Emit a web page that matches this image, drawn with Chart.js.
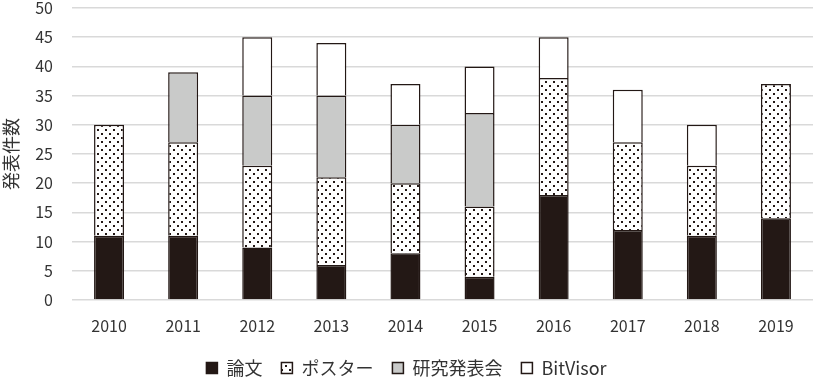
<!DOCTYPE html>
<html><head><meta charset="utf-8">
<script src="https://cdn.jsdelivr.net/npm/chart.js@4"></script>
<style>html,body{margin:0;padding:0;background:#fff;}canvas{display:block;}</style>
</head><body>
<canvas id="c" width="820" height="383"></canvas>
<script>
const categories = ["2010","2011","2012","2013","2014","2015","2016","2017","2018","2019"];
const seriesNames = ["論文","ポスター","研究発表会","BitVisor"];
const ronbun   = [11,11,9,6,8,4,18,12,11,14];
const poster   = [19,16,14,15,12,12,20,15,12,23];
const kenkyu   = [null,12,12,14,10,16,null,null,null,null];
const bitvisor = [null,null,10,9,7,8,7,9,7,null];
const yTicks = [0,5,10,15,20,25,30,35,40,45,50];

const FONT = "'Noto Sans CJK JP', 'Noto Sans', sans-serif";
const DARK = '#231815';
const TEXT = '#333333';

function dotPattern(){
  const p = document.createElement('canvas');
  p.width = 8; p.height = 8;
  const g = p.getContext('2d');
  g.fillStyle = '#fff'; g.fillRect(0,0,8,8);
  g.fillStyle = DARK;
  g.fillRect(1,1,2,2);
  g.fillRect(5,5,2,2);
  return g.createPattern(p,'repeat');
}
const ctx = document.getElementById('c').getContext('2d');
const pat = dotPattern();

const legendHeightFix = {
  id: 'legendHeightFix',
  beforeLayout(chart){
    const lg = chart.legend;
    if (lg && !lg._patched){
      const f = lg.fit;
      lg.fit = function(){ f.call(this); this.height = 43; };
      lg._patched = true;
    }
  }
};

new Chart(ctx, {
  type: 'bar',
  data: {
    labels: categories,
    datasets: [
      {label: seriesNames[0], data: ronbun, backgroundColor: DARK, borderColor: DARK, borderWidth: 1.5},
      {label: seriesNames[1], data: poster, backgroundColor: pat, borderColor: DARK, borderWidth: 1.5},
      {label: seriesNames[2], data: kenkyu, backgroundColor: '#c9cac9', borderColor: DARK, borderWidth: 1.5},
      {label: seriesNames[3], data: bitvisor, backgroundColor: '#ffffff', borderColor: DARK, borderWidth: 1.5}
    ]
  },
  plugins: [legendHeightFix],
  options: {
    responsive: false,
    animation: false,
    layout: {padding: {left: 0, right: 7, top: 8, bottom: 0}},
    datasets: {bar: {barPercentage: 0.405, categoryPercentage: 1.0}},
    scales: {
      x: {
        stacked: true,
        grid: {display: false},
        border: {display: false},
        ticks: {color: TEXT, font: {family: FONT, size: 16}, padding: 8},
        afterFit: s => { s.height = 40; s.paddingLeft = 0; s.paddingRight = 0; }
      },
      y: {
        stacked: true,
        min: 0, max: 50,
        afterBuildTicks: s => { s.ticks = yTicks.map(v => ({value: v})); },
        grid: {color: '#d9d9d9', lineWidth: 1.5, drawTicks: false},
        border: {display: false},
        ticks: {color: TEXT, font: {family: FONT, size: 16}, padding: 19},
        title: {display: true, text: '発表件数', color: TEXT, font: {family: FONT, size: 18}, padding: 0},
        afterFit: s => { s.width = 72; s.paddingTop = 0; s.paddingBottom = 0; }
      }
    },
    plugins: {
      tooltip: {enabled: false},
      legend: {
        position: 'bottom',
        labels: {
          color: TEXT,
          font: {family: FONT, size: 18},
          boxWidth: 11, boxHeight: 11, padding: 19,
          generateLabels: chart => chart.data.datasets.map((d,i) => ({
            text: d.label, fillStyle: d.backgroundColor, strokeStyle: DARK,
            lineWidth: 1.5, hidden: false, datasetIndex: i, fontColor: TEXT
          }))
        }
      }
    }
  }
});
</script>
</body></html>
